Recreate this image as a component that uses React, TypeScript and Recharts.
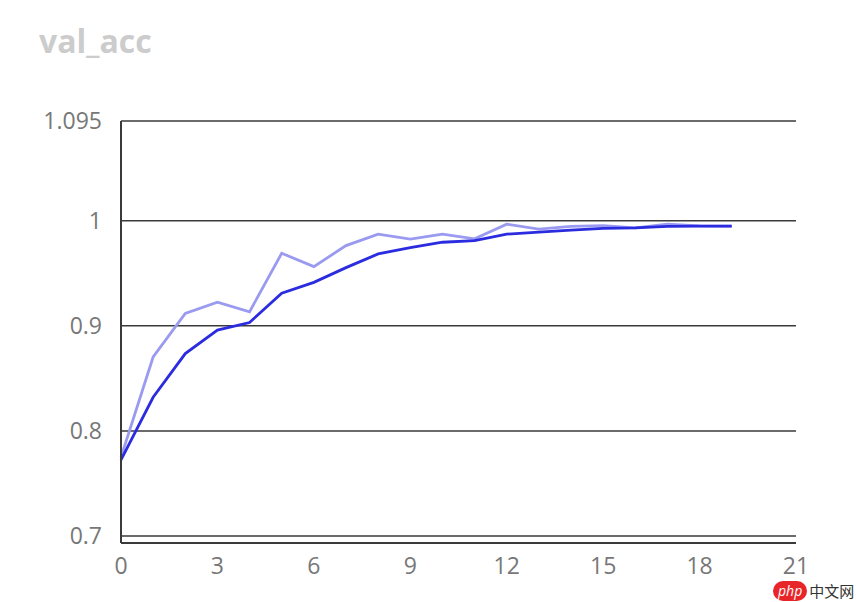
import React from 'react';
import { LineChart, Line, XAxis, YAxis, CartesianGrid } from 'recharts';

const epochs = [0, 1, 2, 3, 4, 5, 6, 7, 8, 9, 10, 11, 12, 13, 14, 15, 16, 17, 18, 19];
const valAccLight = [0.775, 0.8704, 0.9118, 0.9226, 0.9134, 0.9691, 0.9564, 0.9764, 0.9873, 0.9825, 0.9873, 0.9828, 0.9968, 0.992, 0.9946, 0.9955, 0.9933, 0.9968, 0.9952, 0.995];
const valAccDark = [0.7724, 0.832, 0.8736, 0.8959, 0.9032, 0.931, 0.9414, 0.9554, 0.9685, 0.9745, 0.9796, 0.9812, 0.9873, 0.9892, 0.9911, 0.9927, 0.9933, 0.9946, 0.995, 0.995];
const xTicks = [0, 3, 6, 9, 12, 15, 18, 21];
const yTicks = [0.7, 0.8, 0.9, 1, 1.095];

const data = epochs.map((e, i) => ({ epoch: e, light: valAccLight[i], dark: valAccDark[i] }));

const FONT = '"Open Sans", "Noto Sans", sans-serif';

export default function App() {
  return (
    <div style={{ position: 'absolute', left: 0, top: 0, width: 856, height: 602, background: '#fff', fontFamily: FONT }}>
      <div style={{ position: 'absolute', left: 39, top: 21, fontSize: 32, fontWeight: 700, color: '#cccccc', lineHeight: '40px' }}>val_acc</div>
      <LineChart width={856} height={602} data={data} margin={{ top: 121, right: 60, left: 61, bottom: 29 }}>
        <CartesianGrid horizontal={true} vertical={false} stroke="#3a3a3a" strokeWidth={1.5} />
        <XAxis
          dataKey="epoch"
          type="number"
          domain={[0, 21]}
          ticks={xTicks}
          interval={0}
          height={30}
          tickLine={false}
          tickSize={0}
          tickMargin={15}
          axisLine={{ stroke: '#3a3a3a', strokeWidth: 2 }}
          tick={{ fill: '#777777', fontSize: 23, fontFamily: FONT }}
        />
        <YAxis
          type="number"
          domain={[0.6933, 1.095]}
          ticks={yTicks}
          interval={0}
          width={60}
          tickLine={false}
          tickSize={0}
          tickMargin={19}
          allowDataOverflow={true}
          axisLine={{ stroke: '#3a3a3a', strokeWidth: 2 }}
          tick={{ fill: '#777777', fontSize: 23, fontFamily: FONT }}
          tickFormatter={(v: number) => String(v)}
        />
        <Line type="linear" dataKey="light" stroke="#9a9af0" strokeWidth={2.8} dot={false} isAnimationActive={false} />
        <Line type="linear" dataKey="dark" stroke="#2b2be0" strokeWidth={2.8} dot={false} isAnimationActive={false} />
      </LineChart>
      <div style={{ position: 'absolute', left: 773, top: 581, height: 20, display: 'flex', alignItems: 'center' }}>
        <span style={{ background: '#e8262a', color: '#fff', borderRadius: 10, padding: '0 5px', fontSize: 14, lineHeight: '20px', fontStyle: 'italic' }}>php</span>
        <span style={{ color: '#333', fontSize: 15, lineHeight: '20px', marginLeft: 2, fontFamily: '"Noto Sans CJK SC", sans-serif' }}>中文网</span>
      </div>
    </div>
  );
}
